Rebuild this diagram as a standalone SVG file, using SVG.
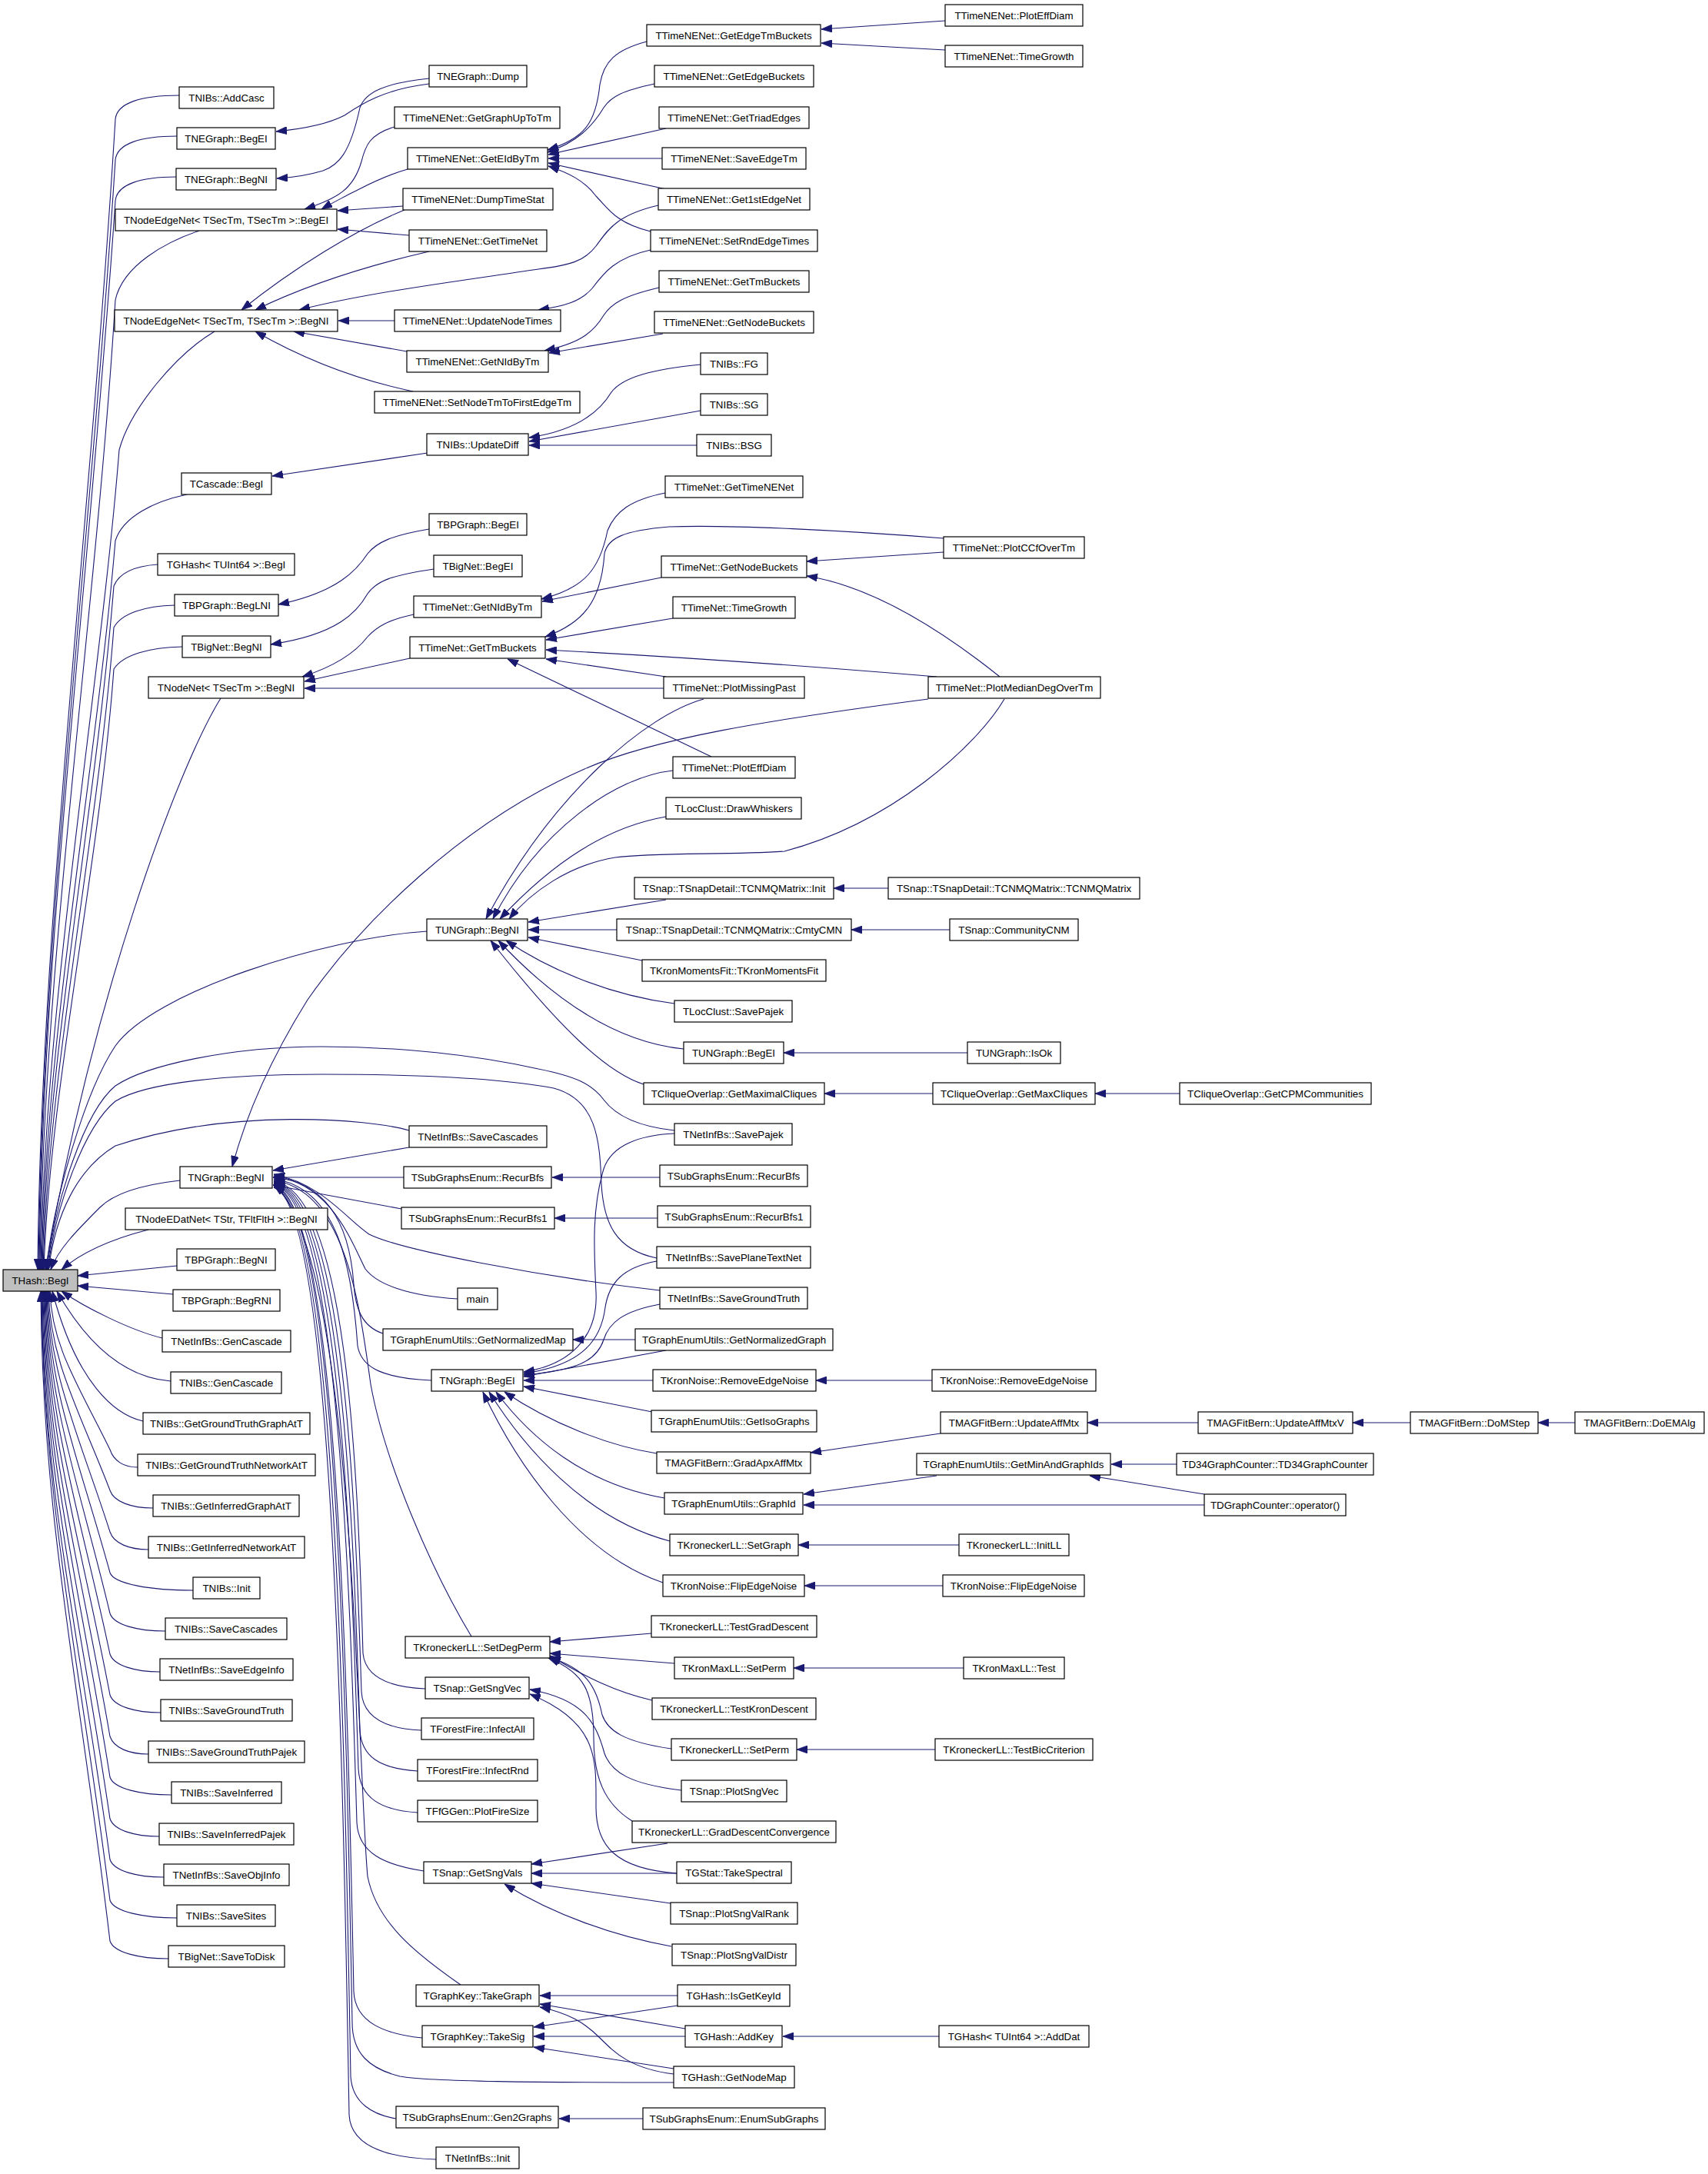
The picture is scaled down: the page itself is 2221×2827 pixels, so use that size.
<svg xmlns="http://www.w3.org/2000/svg" width="2221" height="2827" viewBox="0 0 2221 2827">
<style>
.node rect{fill:#fff;stroke:#000;stroke-width:1.2}
.node rect.root{fill:#bfbfbf}
.node text{font-family:"Liberation Sans",Arial,Helvetica,sans-serif;font-size:13.33px;text-anchor:middle;fill:#000}
.edges path{fill:none;stroke:#191970;stroke-width:1.1;marker-end:url(#a)}
</style>
<defs>
<marker id="a" viewBox="0 0 14 10" markerWidth="14" markerHeight="10" refX="14" refY="5" orient="auto" markerUnits="userSpaceOnUse"><path d="M0,0 L14,5 L0,10 z" fill="#191970" stroke="#191970" stroke-width="0.8"/></marker>
</defs>
<rect x="0" y="0" width="2221" height="2827" fill="#fff"/>
<g class="edges">
<path d="M233,124 C183,124 152,134 150,155 C118,680 53,1200 49,1651"/>
<path d="M230,177 C182,177 152,187 150,208 C118,710 54,1210 50,1651"/>
<path d="M229,230 C182,230 152,240 150,261 C118,740 55,1220 51,1651"/>
<path d="M259,300 C215,315 160,345 150,390 C125,800 56,1250 52,1651"/>
<path d="M279,431 C230,460 170,530 155,585 C130,900 58,1300 53,1651"/>
<path d="M243,643 C200,652 160,672 150,703 C125,1000 59,1350 54,1651"/>
<path d="M205,734 C175,736 155,745 148,762 C125,1050 60,1380 55,1651"/>
<path d="M227,787 C190,788 158,797 148,816 C128,1080 62,1400 56,1651"/>
<path d="M237,841 C195,842 160,851 148,870 C130,1120 64,1420 57,1651"/>
<path d="M287,908 C230,1000 120,1300 59,1651"/>
<path d="M555,1211 C420,1220 200,1290 150,1360 C110,1420 70,1560 60,1651"/>
<path d="M877,1470 C830,1465 800,1450 785,1430 C770,1410 750,1400 700,1390 C620,1372 520,1361 418,1361 C300,1361 190,1385 150,1412 C110,1445 72,1560 61,1651"/>
<path d="M854,1636 C800,1625 785,1590 782,1540 C780,1480 775,1430 720,1415 C640,1400 520,1397 418,1397 C300,1397 190,1407 150,1432 C110,1465 73,1565 62,1651"/>
<path d="M532,1470 C480,1455 300,1440 150,1490 C100,1520 72,1580 63,1651"/>
<path d="M234,1535 C190,1540 150,1550 130,1570 C100,1600 75,1625 66,1651"/>
<path d="M193,1599 C150,1610 110,1625 80,1651"/>
<path d="M230,1646 L101,1659"/>
<path d="M225,1683 L101,1672"/>
<path d="M211,1740 C170,1730 110,1700 80,1679"/>
<path d="M222,1796 C170,1792 120,1760 74,1679"/>
<path d="M186,1848 C150,1840 100,1800 68,1679"/>
<path d="M179,1908 C161,1908 148,1900 143,1885 C103,1803 67,1751 65,1679"/>
<path d="M199,1961 C171,1961 148,1953 143,1938 C103,1834 65,1770 63,1679"/>
<path d="M193,2015 C168,2015 148,2007 143,1992 C103,1867 64,1789 62,1679"/>
<path d="M251,2068 C197,2068 148,2060 143,2045 C103,1899 63,1807 61,1679"/>
<path d="M215,2121 C179,2121 148,2113 143,2098 C103,1930 62,1826 60,1679"/>
<path d="M208,2174 C176,2174 148,2166 143,2151 C103,1962 61,1844 59,1679"/>
<path d="M209,2227 C176,2227 148,2219 143,2204 C103,1994 60,1863 58,1679"/>
<path d="M193,2281 C168,2281 148,2273 143,2258 C103,2026 59,1882 57,1679"/>
<path d="M223,2334 C183,2334 148,2326 143,2311 C103,2058 58,1900 56,1679"/>
<path d="M207,2388 C175,2388 148,2380 143,2365 C103,2091 57,1919 55,1679"/>
<path d="M213,2441 C178,2441 148,2433 143,2418 C103,2122 56,1938 54,1679"/>
<path d="M230,2494 C187,2494 148,2486 143,2471 C103,2154 56,1956 54,1679"/>
<path d="M219,2547 C181,2547 148,2539 143,2524 C103,2186 55,1975 53,1679"/>
<path d="M558,109 C500,116 470,135 448,150 C425,162 390,168 359,171"/>
<path d="M558,102 C500,108 475,120 468,140 C455,200 440,215 420,222 C400,228 380,231 360,232"/>
<path d="M513,165 C480,175 475,190 470,210 C460,245 440,258 396,272"/>
<path d="M530,220 C495,230 470,245 455,252 C440,260 430,265 418,272"/>
<path d="M524,268 L439,274"/>
<path d="M532,306 L439,298"/>
<path d="M526,273 C460,300 380,350 314,403"/>
<path d="M558,327 C480,345 400,370 332,403"/>
<path d="M856,267 C800,280 790,300 775,320 C760,340 740,345 700,350 C600,365 480,380 389,403"/>
<path d="M513,417 L440,417"/>
<path d="M529,457 L382,431"/>
<path d="M537,509 C470,495 400,470 332,431"/>
<path d="M841,54 C800,65 785,80 780,110 C775,160 760,180 712,195"/>
<path d="M851,109 C810,118 795,125 785,140 C770,165 750,185 712,198"/>
<path d="M866,167 L713,201"/>
<path d="M861,206 L713,206"/>
<path d="M866,246 L713,212"/>
<path d="M846,301 C800,290 790,270 775,255 C760,235 740,225 713,216"/>
<path d="M1229,27 L1068,38"/>
<path d="M1229,65 L1068,56"/>
<path d="M846,325 C800,335 785,355 770,375 C755,392 735,398 700,403"/>
<path d="M857,374 C810,385 795,395 785,410 C770,435 750,447 708,456"/>
<path d="M862,434 L714,459"/>
<path d="M911,474 C850,480 810,490 795,510 C780,535 750,560 688,569"/>
<path d="M911,534 L688,574"/>
<path d="M906,579 L688,579"/>
<path d="M556,589 L354,619"/>
<path d="M558,688 C510,696 490,705 478,720 C465,740 440,770 362,786"/>
<path d="M564,740 C510,748 490,755 478,772 C465,795 440,825 352,838"/>
<path d="M538,799 C505,806 490,815 478,828 C465,845 440,865 393,880"/>
<path d="M533,856 L396,886"/>
<path d="M863,895 L396,895"/>
<path d="M865,641 C820,650 800,665 790,690 C780,740 760,765 704,779"/>
<path d="M860,751 L705,782"/>
<path d="M1227,700 C1100,690 950,682 870,685 C810,690 790,700 786,720 C782,780 760,810 709,828"/>
<path d="M875,804 L710,832"/>
<path d="M1218,880 C1050,866 900,855 710,845"/>
<path d="M866,880 L710,857"/>
<path d="M925,984 L660,857"/>
<path d="M1227,718 L1049,730"/>
<path d="M1300,880 C1250,840 1150,765 1049,749"/>
<path d="M1207,909 C1000,936 850,960 760,1000 C600,1070 470,1200 400,1300 C350,1380 320,1450 302,1517"/>
<path d="M915,909 C840,930 720,1030 632,1195"/>
<path d="M875,1002 C800,1010 700,1080 641,1195"/>
<path d="M866,1062 C790,1075 720,1120 650,1195"/>
<path d="M1306,909 C1270,970 1160,1070 1020,1107 C950,1112 850,1108 800,1115 C740,1125 690,1160 662,1195"/>
<path d="M866,1170 L687,1199"/>
<path d="M802,1209 L687,1209"/>
<path d="M835,1249 L687,1219"/>
<path d="M877,1305 C800,1295 720,1265 658,1223"/>
<path d="M889,1364 C800,1355 720,1300 648,1223"/>
<path d="M837,1410 C790,1395 730,1340 638,1223"/>
<path d="M1155,1155 L1084,1155"/>
<path d="M1235,1209 L1107,1209"/>
<path d="M1258,1369 L1019,1369"/>
<path d="M1213,1422 L1072,1422"/>
<path d="M1534,1422 L1424,1422"/>
<path d="M532,1492 L355,1522"/>
<path d="M525,1531 L355,1531"/>
<path d="M522,1572 L355,1541"/>
<path d="M858,1678 C700,1660 520,1625 480,1605 C450,1585 420,1540 356,1527"/>
<path d="M595,1689 C530,1685 490,1670 475,1650 C455,1610 430,1540 356,1529"/>
<path d="M498,1734 C470,1725 462,1700 460,1670 C455,1600 430,1538 356,1531"/>
<path d="M561,1795 C500,1792 470,1780 465,1750 C458,1650 440,1545 356,1533"/>
<path d="M613,2128 C560,2040 500,1900 482,1800 C468,1700 450,1548 356,1535"/>
<path d="M553,2196 C505,2194 475,2180 472,2150 C465,1900 450,1550 356,1536"/>
<path d="M548,2250 C500,2248 472,2232 470,2200 C462,1950 448,1552 356,1537"/>
<path d="M543,2303 C495,2300 470,2285 468,2250 C460,2000 446,1554 356,1538"/>
<path d="M543,2357 C495,2354 468,2338 466,2300 C458,2050 444,1556 356,1539"/>
<path d="M551,2433 C500,2425 466,2410 464,2370 C456,2100 442,1558 356,1540"/>
<path d="M599,2581 C540,2540 490,2500 478,2440 C465,2300 460,1620 356,1541"/>
<path d="M549,2650 C500,2645 462,2630 460,2590 C452,2200 440,1560 356,1541"/>
<path d="M876,2708 C700,2708 560,2707 520,2700 C480,2690 458,2670 458,2630 C450,2200 438,1562 356,1542"/>
<path d="M515,2755 C485,2750 458,2735 456,2700 C448,2250 436,1564 356,1543"/>
<path d="M567,2808 C500,2806 456,2790 454,2750 C446,2300 434,1566 356,1544"/>
<path d="M877,1474 C830,1476 795,1490 785,1520 C770,1570 772,1620 775,1680 C778,1740 740,1775 681,1784"/>
<path d="M854,1640 C810,1648 792,1668 787,1700 C782,1740 760,1775 681,1786"/>
<path d="M858,1696 C810,1705 792,1720 785,1742 C776,1770 750,1782 681,1788"/>
<path d="M866,1756 L681,1790"/>
<path d="M849,1795 L681,1795"/>
<path d="M848,1836 L681,1803"/>
<path d="M854,1890 C790,1880 715,1850 656,1810"/>
<path d="M864,1948 C760,1930 690,1870 645,1810"/>
<path d="M871,2004 C760,1975 680,1880 636,1810"/>
<path d="M862,2058 C750,2020 670,1900 628,1810"/>
<path d="M858,1531 L718,1531"/>
<path d="M855,1584 L721,1584"/>
<path d="M826,1742 L745,1742"/>
<path d="M1212,1795 L1061,1795"/>
<path d="M1223,1864 L1054,1889"/>
<path d="M1558,1850 L1414,1850"/>
<path d="M1834,1850 L1759,1850"/>
<path d="M2048,1850 L2000,1850"/>
<path d="M1218,1919 L1045,1943"/>
<path d="M1566,1957 L1045,1957"/>
<path d="M1530,1904 L1445,1904"/>
<path d="M1566,1943 L1417,1919"/>
<path d="M1247,2009 L1038,2009"/>
<path d="M1226,2062 L1046,2062"/>
<path d="M847,2124 L715,2135"/>
<path d="M877,2163 L715,2150"/>
<path d="M848,2211 C800,2200 760,2180 715,2153"/>
<path d="M873,2274 C810,2265 790,2250 783,2230 C775,2190 760,2170 715,2155"/>
<path d="M822,2368 C785,2345 772,2310 772,2260 C772,2200 760,2175 713,2156"/>
<path d="M1216,2275 L1036,2275"/>
<path d="M1253,2169 L1032,2169"/>
<path d="M886,2328 C820,2320 795,2305 786,2280 C775,2240 760,2210 689,2197"/>
<path d="M880,2436 C800,2430 775,2400 775,2350 C775,2290 780,2240 689,2203"/>
<path d="M868,2397 L691,2424"/>
<path d="M880,2436 L691,2436"/>
<path d="M872,2475 L691,2449"/>
<path d="M873,2531 C800,2518 720,2490 656,2450"/>
<path d="M881,2595 L702,2595"/>
<path d="M891,2638 L702,2606"/>
<path d="M876,2697 C820,2690 800,2670 780,2650 C760,2630 740,2618 702,2610"/>
<path d="M881,2608 L694,2636"/>
<path d="M891,2648 L694,2648"/>
<path d="M876,2690 L694,2662"/>
<path d="M1221,2648 L1018,2648"/>
<path d="M836,2755 L727,2755"/>
</g>
<g id="THash_BegI" class="node"><rect class="root" x="4" y="1651" width="97" height="28"/><text x="52.5" y="1670">THash::BegI</text></g>
<g id="TNIBs_AddCasc" class="node"><rect x="233" y="113" width="123" height="28"/><text x="294.5" y="132">TNIBs::AddCasc</text></g>
<g id="TNEGraph_BegEI" class="node"><rect x="230" y="166" width="128" height="28"/><text x="294" y="185">TNEGraph::BegEI</text></g>
<g id="TNEGraph_BegNI" class="node"><rect x="229" y="219" width="130" height="28"/><text x="294" y="238">TNEGraph::BegNI</text></g>
<g id="TNodeEdgeNet_BegEI" class="node"><rect x="150" y="272" width="288" height="28"/><text x="294" y="291">TNodeEdgeNet&lt; TSecTm, TSecTm &gt;::BegEI</text></g>
<g id="TNodeEdgeNet_BegNI" class="node"><rect x="149" y="403" width="290" height="28"/><text x="294" y="422">TNodeEdgeNet&lt; TSecTm, TSecTm &gt;::BegNI</text></g>
<g id="TCascade_BegI" class="node"><rect x="236" y="615" width="117" height="28"/><text x="294.5" y="634">TCascade::BegI</text></g>
<g id="TGHash_TUInt64_BegI" class="node"><rect x="205" y="720" width="178" height="28"/><text x="294" y="739">TGHash&lt; TUInt64 &gt;::BegI</text></g>
<g id="TBPGraph_BegLNI" class="node"><rect x="227" y="773" width="135" height="28"/><text x="294.5" y="792">TBPGraph::BegLNI</text></g>
<g id="TBigNet_BegNI" class="node"><rect x="237" y="827" width="115" height="28"/><text x="294.5" y="846">TBigNet::BegNI</text></g>
<g id="TNodeNet_BegNI" class="node"><rect x="193" y="880" width="202" height="28"/><text x="294" y="899">TNodeNet&lt; TSecTm &gt;::BegNI</text></g>
<g id="TNGraph_BegNI" class="node"><rect x="234" y="1517" width="120" height="28"/><text x="294" y="1536">TNGraph::BegNI</text></g>
<g id="TNodeEDatNet_BegNI" class="node"><rect x="163" y="1571" width="263" height="28"/><text x="294.5" y="1590">TNodeEDatNet&lt; TStr, TFltFltH &gt;::BegNI</text></g>
<g id="TBPGraph_BegNI" class="node"><rect x="230" y="1624" width="128" height="28"/><text x="294" y="1643">TBPGraph::BegNI</text></g>
<g id="TBPGraph_BegRNI" class="node"><rect x="225" y="1677" width="139" height="28"/><text x="294.5" y="1696">TBPGraph::BegRNI</text></g>
<g id="TNetInfBs_GenCascade" class="node"><rect x="211" y="1730" width="167" height="28"/><text x="294.5" y="1749">TNetInfBs::GenCascade</text></g>
<g id="TNIBs_GenCascade" class="node"><rect x="222" y="1784" width="144" height="28"/><text x="294" y="1803">TNIBs::GenCascade</text></g>
<g id="TNIBs_GetGroundTruthGraphAtT" class="node"><rect x="186" y="1837" width="217" height="28"/><text x="294.5" y="1856">TNIBs::GetGroundTruthGraphAtT</text></g>
<g id="TNIBs_GetGroundTruthNetworkAtT" class="node"><rect x="179" y="1891" width="231" height="28"/><text x="294.5" y="1910">TNIBs::GetGroundTruthNetworkAtT</text></g>
<g id="TNIBs_GetInferredGraphAtT" class="node"><rect x="199" y="1944" width="190" height="28"/><text x="294" y="1963">TNIBs::GetInferredGraphAtT</text></g>
<g id="TNIBs_GetInferredNetworkAtT" class="node"><rect x="193" y="1998" width="203" height="28"/><text x="294.5" y="2017">TNIBs::GetInferredNetworkAtT</text></g>
<g id="TNIBs_Init" class="node"><rect x="251" y="2051" width="87" height="28"/><text x="294.5" y="2070">TNIBs::Init</text></g>
<g id="TNIBs_SaveCascades" class="node"><rect x="215" y="2104" width="158" height="28"/><text x="294" y="2123">TNIBs::SaveCascades</text></g>
<g id="TNetInfBs_SaveEdgeInfo" class="node"><rect x="208" y="2157" width="173" height="28"/><text x="294.5" y="2176">TNetInfBs::SaveEdgeInfo</text></g>
<g id="TNIBs_SaveGroundTruth" class="node"><rect x="209" y="2210" width="171" height="28"/><text x="294.5" y="2229">TNIBs::SaveGroundTruth</text></g>
<g id="TNIBs_SaveGroundTruthPajek" class="node"><rect x="193" y="2264" width="203" height="28"/><text x="294.5" y="2283">TNIBs::SaveGroundTruthPajek</text></g>
<g id="TNIBs_SaveInferred" class="node"><rect x="223" y="2317" width="143" height="28"/><text x="294.5" y="2336">TNIBs::SaveInferred</text></g>
<g id="TNIBs_SaveInferredPajek" class="node"><rect x="207" y="2371" width="175" height="28"/><text x="294.5" y="2390">TNIBs::SaveInferredPajek</text></g>
<g id="TNetInfBs_SaveObjInfo" class="node"><rect x="213" y="2424" width="163" height="28"/><text x="294.5" y="2443">TNetInfBs::SaveObjInfo</text></g>
<g id="TNIBs_SaveSites" class="node"><rect x="230" y="2477" width="128" height="28"/><text x="294" y="2496">TNIBs::SaveSites</text></g>
<g id="TBigNet_SaveToDisk" class="node"><rect x="219" y="2530" width="151" height="28"/><text x="294.5" y="2549">TBigNet::SaveToDisk</text></g>
<g id="TNEGraph_Dump" class="node"><rect x="558" y="85" width="127" height="28"/><text x="621.5" y="104">TNEGraph::Dump</text></g>
<g id="TTimeNENet_GetGraphUpToTm" class="node"><rect x="513" y="139" width="215" height="28"/><text x="620.5" y="158">TTimeNENet::GetGraphUpToTm</text></g>
<g id="TTimeNENet_GetEIdByTm" class="node"><rect x="530" y="192" width="182" height="28"/><text x="621" y="211">TTimeNENet::GetEIdByTm</text></g>
<g id="TTimeNENet_DumpTimeStat" class="node"><rect x="524" y="245" width="195" height="28"/><text x="621.5" y="264">TTimeNENet::DumpTimeStat</text></g>
<g id="TTimeNENet_GetTimeNet" class="node"><rect x="532" y="299" width="179" height="28"/><text x="621.5" y="318">TTimeNENet::GetTimeNet</text></g>
<g id="TTimeNENet_UpdateNodeTimes" class="node"><rect x="513" y="403" width="216" height="28"/><text x="621" y="422">TTimeNENet::UpdateNodeTimes</text></g>
<g id="TTimeNENet_GetNIdByTm" class="node"><rect x="529" y="456" width="184" height="28"/><text x="621" y="475">TTimeNENet::GetNIdByTm</text></g>
<g id="TTimeNENet_SetNodeTmToFirstEdgeTm" class="node"><rect x="487" y="509" width="267" height="28"/><text x="620.5" y="528">TTimeNENet::SetNodeTmToFirstEdgeTm</text></g>
<g id="TNIBs_UpdateDiff" class="node"><rect x="555" y="564" width="132" height="28"/><text x="621" y="583">TNIBs::UpdateDiff</text></g>
<g id="TBPGraph_BegEI" class="node"><rect x="558" y="668" width="127" height="28"/><text x="621.5" y="687">TBPGraph::BegEI</text></g>
<g id="TBigNet_BegEI" class="node"><rect x="564" y="722" width="115" height="28"/><text x="621.5" y="741">TBigNet::BegEI</text></g>
<g id="TTimeNet_GetNIdByTm" class="node"><rect x="538" y="775" width="166" height="28"/><text x="621" y="794">TTimeNet::GetNIdByTm</text></g>
<g id="TTimeNet_GetTmBuckets" class="node"><rect x="533" y="828" width="176" height="28"/><text x="621" y="847">TTimeNet::GetTmBuckets</text></g>
<g id="TUNGraph_BegNI" class="node"><rect x="555" y="1195" width="131" height="28"/><text x="620.5" y="1214">TUNGraph::BegNI</text></g>
<g id="TNetInfBs_SaveCascades" class="node"><rect x="532" y="1464" width="179" height="28"/><text x="621.5" y="1483">TNetInfBs::SaveCascades</text></g>
<g id="TSubGraphsEnum_RecurBfs_a" class="node"><rect x="525" y="1517" width="192" height="28"/><text x="621" y="1536">TSubGraphsEnum::RecurBfs</text></g>
<g id="TSubGraphsEnum_RecurBfs1_a" class="node"><rect x="522" y="1570" width="199" height="28"/><text x="621.5" y="1589">TSubGraphsEnum::RecurBfs1</text></g>
<g id="main" class="node"><rect x="595" y="1675" width="52" height="28"/><text x="621" y="1694">main</text></g>
<g id="TGraphEnumUtils_GetNormalizedMap" class="node"><rect x="498" y="1728" width="247" height="28"/><text x="621.5" y="1747">TGraphEnumUtils::GetNormalizedMap</text></g>
<g id="TNGraph_BegEI" class="node"><rect x="561" y="1781" width="119" height="28"/><text x="620.5" y="1800">TNGraph::BegEI</text></g>
<g id="TKroneckerLL_SetDegPerm" class="node"><rect x="527" y="2128" width="188" height="28"/><text x="621" y="2147">TKroneckerLL::SetDegPerm</text></g>
<g id="TSnap_GetSngVec" class="node"><rect x="553" y="2181" width="135" height="28"/><text x="620.5" y="2200">TSnap::GetSngVec</text></g>
<g id="TForestFire_InfectAll" class="node"><rect x="548" y="2234" width="146" height="28"/><text x="621" y="2253">TForestFire::InfectAll</text></g>
<g id="TForestFire_InfectRnd" class="node"><rect x="543" y="2288" width="156" height="28"/><text x="621" y="2307">TForestFire::InfectRnd</text></g>
<g id="TFfGGen_PlotFireSize" class="node"><rect x="543" y="2341" width="156" height="28"/><text x="621" y="2360">TFfGGen::PlotFireSize</text></g>
<g id="TSnap_GetSngVals" class="node"><rect x="551" y="2421" width="140" height="28"/><text x="621" y="2440">TSnap::GetSngVals</text></g>
<g id="TGraphKey_TakeGraph" class="node"><rect x="541" y="2581" width="160" height="28"/><text x="621" y="2600">TGraphKey::TakeGraph</text></g>
<g id="TGraphKey_TakeSig" class="node"><rect x="549" y="2634" width="144" height="28"/><text x="621" y="2653">TGraphKey::TakeSig</text></g>
<g id="TSubGraphsEnum_Gen2Graphs" class="node"><rect x="515" y="2739" width="211" height="28"/><text x="620.5" y="2758">TSubGraphsEnum::Gen2Graphs</text></g>
<g id="TNetInfBs_Init" class="node"><rect x="567" y="2792" width="108" height="28"/><text x="621" y="2811">TNetInfBs::Init</text></g>
<g id="TTimeNENet_GetEdgeTmBuckets" class="node"><rect x="841" y="32" width="226" height="28"/><text x="954" y="51">TTimeNENet::GetEdgeTmBuckets</text></g>
<g id="TTimeNENet_GetEdgeBuckets" class="node"><rect x="851" y="85" width="207" height="28"/><text x="954.5" y="104">TTimeNENet::GetEdgeBuckets</text></g>
<g id="TTimeNENet_GetTriadEdges" class="node"><rect x="857" y="139" width="195" height="28"/><text x="954.5" y="158">TTimeNENet::GetTriadEdges</text></g>
<g id="TTimeNENet_SaveEdgeTm" class="node"><rect x="861" y="192" width="187" height="28"/><text x="954.5" y="211">TTimeNENet::SaveEdgeTm</text></g>
<g id="TTimeNENet_Get1stEdgeNet" class="node"><rect x="856" y="245" width="197" height="28"/><text x="954.5" y="264">TTimeNENet::Get1stEdgeNet</text></g>
<g id="TTimeNENet_SetRndEdgeTimes" class="node"><rect x="846" y="299" width="217" height="28"/><text x="954.5" y="318">TTimeNENet::SetRndEdgeTimes</text></g>
<g id="TTimeNENet_GetTmBuckets" class="node"><rect x="857" y="352" width="195" height="28"/><text x="954.5" y="371">TTimeNENet::GetTmBuckets</text></g>
<g id="TTimeNENet_GetNodeBuckets" class="node"><rect x="851" y="405" width="207" height="28"/><text x="954.5" y="424">TTimeNENet::GetNodeBuckets</text></g>
<g id="TNIBs_FG" class="node"><rect x="911" y="459" width="87" height="28"/><text x="954.5" y="478">TNIBs::FG</text></g>
<g id="TNIBs_SG" class="node"><rect x="911" y="512" width="87" height="28"/><text x="954.5" y="531">TNIBs::SG</text></g>
<g id="TNIBs_BSG" class="node"><rect x="906" y="565" width="97" height="28"/><text x="954.5" y="584">TNIBs::BSG</text></g>
<g id="TTimeNet_GetTimeNENet" class="node"><rect x="865" y="619" width="179" height="28"/><text x="954.5" y="638">TTimeNet::GetTimeNENet</text></g>
<g id="TTimeNet_GetNodeBuckets" class="node"><rect x="860" y="723" width="189" height="28"/><text x="954.5" y="742">TTimeNet::GetNodeBuckets</text></g>
<g id="TTimeNet_TimeGrowth" class="node"><rect x="875" y="776" width="159" height="28"/><text x="954.5" y="795">TTimeNet::TimeGrowth</text></g>
<g id="TTimeNet_PlotMissingPast" class="node"><rect x="863" y="880" width="183" height="28"/><text x="954.5" y="899">TTimeNet::PlotMissingPast</text></g>
<g id="TTimeNet_PlotEffDiam" class="node"><rect x="875" y="984" width="159" height="28"/><text x="954.5" y="1003">TTimeNet::PlotEffDiam</text></g>
<g id="TLocClust_DrawWhiskers" class="node"><rect x="866" y="1037" width="176" height="28"/><text x="954" y="1056">TLocClust::DrawWhiskers</text></g>
<g id="TCNMQMatrix_Init" class="node"><rect x="825" y="1141" width="259" height="28"/><text x="954.5" y="1160">TSnap::TSnapDetail::TCNMQMatrix::Init</text></g>
<g id="TCNMQMatrix_CmtyCMN" class="node"><rect x="802" y="1195" width="305" height="28"/><text x="954.5" y="1214">TSnap::TSnapDetail::TCNMQMatrix::CmtyCMN</text></g>
<g id="TKronMomentsFit_TKronMomentsFit" class="node"><rect x="835" y="1248" width="239" height="28"/><text x="954.5" y="1267">TKronMomentsFit::TKronMomentsFit</text></g>
<g id="TLocClust_SavePajek" class="node"><rect x="877" y="1301" width="153" height="28"/><text x="953.5" y="1320">TLocClust::SavePajek</text></g>
<g id="TUNGraph_BegEI" class="node"><rect x="889" y="1355" width="130" height="28"/><text x="954" y="1374">TUNGraph::BegEI</text></g>
<g id="TCliqueOverlap_GetMaximalCliques" class="node"><rect x="837" y="1408" width="235" height="28"/><text x="954.5" y="1427">TCliqueOverlap::GetMaximalCliques</text></g>
<g id="TNetInfBs_SavePajek" class="node"><rect x="877" y="1461" width="153" height="28"/><text x="953.5" y="1480">TNetInfBs::SavePajek</text></g>
<g id="TSubGraphsEnum_RecurBfs_b" class="node"><rect x="858" y="1515" width="192" height="28"/><text x="954" y="1534">TSubGraphsEnum::RecurBfs</text></g>
<g id="TSubGraphsEnum_RecurBfs1_b" class="node"><rect x="855" y="1568" width="199" height="28"/><text x="954.5" y="1587">TSubGraphsEnum::RecurBfs1</text></g>
<g id="TNetInfBs_SavePlaneTextNet" class="node"><rect x="854" y="1621" width="200" height="28"/><text x="954" y="1640">TNetInfBs::SavePlaneTextNet</text></g>
<g id="TNetInfBs_SaveGroundTruth" class="node"><rect x="858" y="1674" width="192" height="28"/><text x="954" y="1693">TNetInfBs::SaveGroundTruth</text></g>
<g id="TGraphEnumUtils_GetNormalizedGraph" class="node"><rect x="826" y="1728" width="257" height="28"/><text x="954.5" y="1747">TGraphEnumUtils::GetNormalizedGraph</text></g>
<g id="TKronNoise_RemoveEdgeNoise_a" class="node"><rect x="849" y="1781" width="212" height="28"/><text x="955" y="1800">TKronNoise::RemoveEdgeNoise</text></g>
<g id="TGraphEnumUtils_GetIsoGraphs" class="node"><rect x="847" y="1834" width="215" height="28"/><text x="954.5" y="1853">TGraphEnumUtils::GetIsoGraphs</text></g>
<g id="TMAGFitBern_GradApxAffMtx" class="node"><rect x="854" y="1888" width="200" height="28"/><text x="954" y="1907">TMAGFitBern::GradApxAffMtx</text></g>
<g id="TGraphEnumUtils_GraphId" class="node"><rect x="864" y="1941" width="180" height="28"/><text x="954" y="1960">TGraphEnumUtils::GraphId</text></g>
<g id="TKroneckerLL_SetGraph" class="node"><rect x="871" y="1995" width="167" height="28"/><text x="954.5" y="2014">TKroneckerLL::SetGraph</text></g>
<g id="TKronNoise_FlipEdgeNoise_a" class="node"><rect x="862" y="2048" width="184" height="28"/><text x="954" y="2067">TKronNoise::FlipEdgeNoise</text></g>
<g id="TKroneckerLL_TestGradDescent" class="node"><rect x="847" y="2101" width="215" height="28"/><text x="954.5" y="2120">TKroneckerLL::TestGradDescent</text></g>
<g id="TKronMaxLL_SetPerm" class="node"><rect x="877" y="2155" width="155" height="28"/><text x="954.5" y="2174">TKronMaxLL::SetPerm</text></g>
<g id="TKroneckerLL_TestKronDescent" class="node"><rect x="848" y="2208" width="213" height="28"/><text x="954.5" y="2227">TKroneckerLL::TestKronDescent</text></g>
<g id="TKroneckerLL_SetPerm" class="node"><rect x="873" y="2261" width="163" height="28"/><text x="954.5" y="2280">TKroneckerLL::SetPerm</text></g>
<g id="TSnap_PlotSngVec" class="node"><rect x="886" y="2315" width="137" height="28"/><text x="954.5" y="2334">TSnap::PlotSngVec</text></g>
<g id="TKroneckerLL_GradDescentConvergence" class="node"><rect x="822" y="2368" width="265" height="28"/><text x="954.5" y="2387">TKroneckerLL::GradDescentConvergence</text></g>
<g id="TGStat_TakeSpectral" class="node"><rect x="880" y="2421" width="149" height="28"/><text x="954.5" y="2440">TGStat::TakeSpectral</text></g>
<g id="TSnap_PlotSngValRank" class="node"><rect x="872" y="2474" width="165" height="28"/><text x="954.5" y="2493">TSnap::PlotSngValRank</text></g>
<g id="TSnap_PlotSngValDistr" class="node"><rect x="874" y="2528" width="161" height="28"/><text x="954.5" y="2547">TSnap::PlotSngValDistr</text></g>
<g id="TGHash_IsGetKeyId" class="node"><rect x="881" y="2581" width="146" height="28"/><text x="954" y="2600">TGHash::IsGetKeyId</text></g>
<g id="TGHash_AddKey" class="node"><rect x="891" y="2634" width="126" height="28"/><text x="954" y="2653">TGHash::AddKey</text></g>
<g id="TGHash_GetNodeMap" class="node"><rect x="876" y="2687" width="157" height="28"/><text x="954.5" y="2706">TGHash::GetNodeMap</text></g>
<g id="TSubGraphsEnum_EnumSubGraphs" class="node"><rect x="836" y="2741" width="237" height="28"/><text x="954.5" y="2760">TSubGraphsEnum::EnumSubGraphs</text></g>
<g id="TTimeNENet_PlotEffDiam" class="node"><rect x="1229" y="6" width="179" height="28"/><text x="1318.5" y="25">TTimeNENet::PlotEffDiam</text></g>
<g id="TTimeNENet_TimeGrowth" class="node"><rect x="1229" y="59" width="179" height="28"/><text x="1318.5" y="78">TTimeNENet::TimeGrowth</text></g>
<g id="TTimeNet_PlotCCfOverTm" class="node"><rect x="1227" y="698" width="183" height="28"/><text x="1318.5" y="717">TTimeNet::PlotCCfOverTm</text></g>
<g id="TTimeNet_PlotMedianDegOverTm" class="node"><rect x="1207" y="880" width="224" height="28"/><text x="1319" y="899">TTimeNet::PlotMedianDegOverTm</text></g>
<g id="TCNMQMatrix_TCNMQMatrix" class="node"><rect x="1155" y="1141" width="327" height="28"/><text x="1318.5" y="1160">TSnap::TSnapDetail::TCNMQMatrix::TCNMQMatrix</text></g>
<g id="TSnap_CommunityCNM" class="node"><rect x="1235" y="1195" width="167" height="28"/><text x="1318.5" y="1214">TSnap::CommunityCNM</text></g>
<g id="TUNGraph_IsOk" class="node"><rect x="1258" y="1355" width="121" height="28"/><text x="1318.5" y="1374">TUNGraph::IsOk</text></g>
<g id="TCliqueOverlap_GetMaxCliques" class="node"><rect x="1213" y="1408" width="211" height="28"/><text x="1318.5" y="1427">TCliqueOverlap::GetMaxCliques</text></g>
<g id="TKronNoise_RemoveEdgeNoise_b" class="node"><rect x="1212" y="1781" width="213" height="28"/><text x="1318.5" y="1800">TKronNoise::RemoveEdgeNoise</text></g>
<g id="TMAGFitBern_UpdateAffMtx" class="node"><rect x="1223" y="1836" width="191" height="28"/><text x="1318.5" y="1855">TMAGFitBern::UpdateAffMtx</text></g>
<g id="TGraphEnumUtils_GetMinAndGraphIds" class="node"><rect x="1192" y="1890" width="252" height="28"/><text x="1318" y="1909">TGraphEnumUtils::GetMinAndGraphIds</text></g>
<g id="TKroneckerLL_InitLL" class="node"><rect x="1247" y="1995" width="143" height="28"/><text x="1318.5" y="2014">TKroneckerLL::InitLL</text></g>
<g id="TKronNoise_FlipEdgeNoise_b" class="node"><rect x="1226" y="2048" width="184" height="28"/><text x="1318" y="2067">TKronNoise::FlipEdgeNoise</text></g>
<g id="TKronMaxLL_Test" class="node"><rect x="1253" y="2155" width="131" height="28"/><text x="1318.5" y="2174">TKronMaxLL::Test</text></g>
<g id="TKroneckerLL_TestBicCriterion" class="node"><rect x="1216" y="2261" width="205" height="28"/><text x="1318.5" y="2280">TKroneckerLL::TestBicCriterion</text></g>
<g id="TGHash_TUInt64_AddDat" class="node"><rect x="1221" y="2634" width="195" height="28"/><text x="1318.5" y="2653">TGHash&lt; TUInt64 &gt;::AddDat</text></g>
<g id="TCliqueOverlap_GetCPMCommunities" class="node"><rect x="1534" y="1408" width="249" height="28"/><text x="1658.5" y="1427">TCliqueOverlap::GetCPMCommunities</text></g>
<g id="TMAGFitBern_UpdateAffMtxV" class="node"><rect x="1558" y="1836" width="201" height="28"/><text x="1658.5" y="1855">TMAGFitBern::UpdateAffMtxV</text></g>
<g id="TD34GraphCounter_TD34GraphCounter" class="node"><rect x="1530" y="1890" width="256" height="28"/><text x="1658" y="1909">TD34GraphCounter::TD34GraphCounter</text></g>
<g id="TDGraphCounter_operator" class="node"><rect x="1566" y="1943" width="184" height="28"/><text x="1658" y="1962">TDGraphCounter::operator()</text></g>
<g id="TMAGFitBern_DoMStep" class="node"><rect x="1834" y="1836" width="166" height="28"/><text x="1917" y="1855">TMAGFitBern::DoMStep</text></g>
<g id="TMAGFitBern_DoEMAlg" class="node"><rect x="2048" y="1836" width="168" height="28"/><text x="2132" y="1855">TMAGFitBern::DoEMAlg</text></g>
</svg>
